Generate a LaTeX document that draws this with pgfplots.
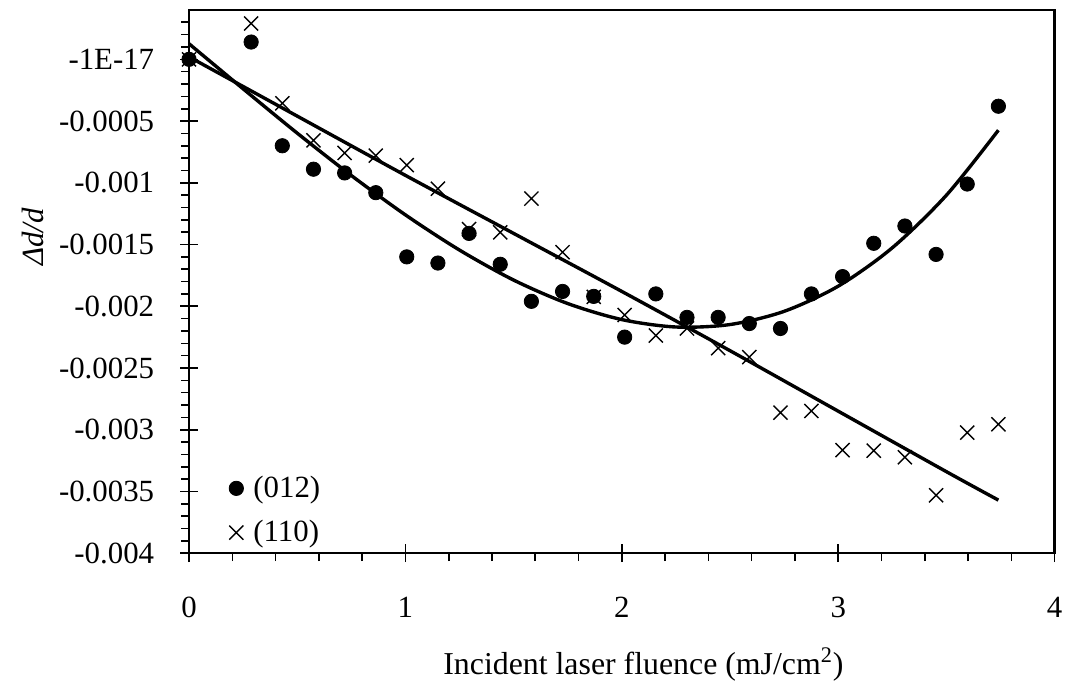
\documentclass[border=0pt]{standalone}
\usepackage{fontspec}
\setmainfont{Liberation Serif}
\usepackage{pgfplots}
\pgfplotsset{compat=1.18}
\begin{document}
\begin{tikzpicture}
\begin{axis}[
  scale only axis, width=435pt, height=273pt,
  xmin=0, xmax=4, ymin=-0.004, ymax=0.0004,
  xtick={0,1,2,3,4}, minor x tick num=4,
  ytick={0,-0.0005,-0.001,-0.0015,-0.002,-0.0025,-0.003,-0.0035,-0.004},
  yticklabels={-1E-17,-0.0005,-0.001,-0.0015,-0.002,-0.0025,-0.003,-0.0035,-0.004},
  minor ytick={0.0003,0.0002,0.0001,-0.0001,-0.0002,-0.0003,-0.0004,-0.0006,-0.0007,-0.0008,-0.0009,-0.0011,-0.0012,-0.0013,-0.0014,-0.0016,-0.0017,-0.0018,-0.0019,-0.0021,-0.0022,-0.0023,-0.0024,-0.0026,-0.0027,-0.0028,-0.0029,-0.0031,-0.0032,-0.0033,-0.0034,-0.0036,-0.0037,-0.0038,-0.0039},
  scaled y ticks=false,
  xtick pos=left, ytick pos=left,
  tick align=center, major tick length=9pt, minor tick length=4pt,
  minor x tick style={yshift=-2pt}, minor y tick style={xshift=-2pt},
  tick style={black, line width=0.8pt},
  axis line style={line width=1.2pt},
  /pgf/number format/assume math mode=true,
  tick label style={font=\fontsize{15.5}{18}\selectfont},
  xticklabel style={yshift=-14pt},
  yticklabel style={xshift=-9.5pt},
  xlabel={Incident laser fluence (mJ/cm\textsuperscript{2})},
  ylabel={\itshape Δd/d},
  xlabel style={font=\fontsize{16}{19}\selectfont, at={(axis description cs:0.525,-0.205)}, anchor=center},
  ylabel style={font=\fontsize{15.5}{18}\selectfont, at={(axis description cs:-0.180,0.582)}, anchor=center, rotate=0},
  legend style={draw=none, fill=none, at={(axis description cs:0.039,0.0)}, anchor=south west, font=\fontsize{15.5}{18}\selectfont, row sep=6pt, column sep=3pt},
  legend cell align=left,
  clip=false,
]
\addplot[only marks, mark=*, mark size=3.6pt, black] coordinates {
(0,0) (0.287,0.00014) (0.431,-0.00070) (0.575,-0.00089) (0.719,-0.00092)
(0.863,-0.00108) (1.006,-0.00160) (1.150,-0.00165) (1.294,-0.00141) (1.438,-0.00166)
(1.582,-0.00196) (1.726,-0.00188) (1.870,-0.00192) (2.013,-0.00225) (2.157,-0.00190)
(2.301,-0.00209) (2.445,-0.00209) (2.589,-0.00214) (2.733,-0.00218) (2.876,-0.00190)
(3.020,-0.00176) (3.164,-0.00149) (3.308,-0.00135) (3.452,-0.00158) (3.596,-0.00101)
(3.740,-0.00038)};
\addlegendentry{(012)}
\addplot[only marks, mark=x, mark size=5pt, black, mark options={line width=0.7pt}] coordinates {
(0,0) (0.287,0.00029) (0.431,-0.000356) (0.575,-0.000656) (0.719,-0.000758)
(0.863,-0.00078) (1.006,-0.000857) (1.150,-0.001048) (1.294,-0.001375) (1.438,-0.001401)
(1.582,-0.001128) (1.726,-0.001562) (1.870,-0.001924) (2.013,-0.002071) (2.157,-0.002237)
(2.301,-0.00218) (2.445,-0.002339) (2.589,-0.002412) (2.733,-0.002862) (2.876,-0.002848)
(3.020,-0.003165) (3.164,-0.00317) (3.308,-0.003223) (3.452,-0.003531) (3.596,-0.003023)
(3.740,-0.002956)};
\addlegendentry{(110)}
\addplot[black, line width=1.7pt, smooth, forget plot] coordinates {
(0,0.000126) (0.25,-0.000239) (0.5,-0.000598) (0.75,-0.000941) (1.0,-0.00126)
(1.25,-0.001545) (1.5,-0.001788) (1.75,-0.001978) (2.0,-0.002108) (2.25,-0.002168)
(2.5,-0.002148) (2.75,-0.002041) (3.0,-0.001837) (3.25,-0.001526) (3.5,-0.0011)
(3.74,-0.000574)};
\addplot[black, line width=1.7pt, smooth, forget plot] coordinates {
(0,0.00002) (0.5,-0.00046) (1.0,-0.00094) (1.5,-0.00141) (2.0,-0.00188)
(2.5,-0.00236) (3.0,-0.00285) (3.5,-0.00334) (3.74,-0.00357)};
\end{axis}
\path (current axis.south west) ++(-95pt,-63pt);
\path (current axis.north east) ++(4.5pt,5pt);
\end{tikzpicture}
\end{document}
